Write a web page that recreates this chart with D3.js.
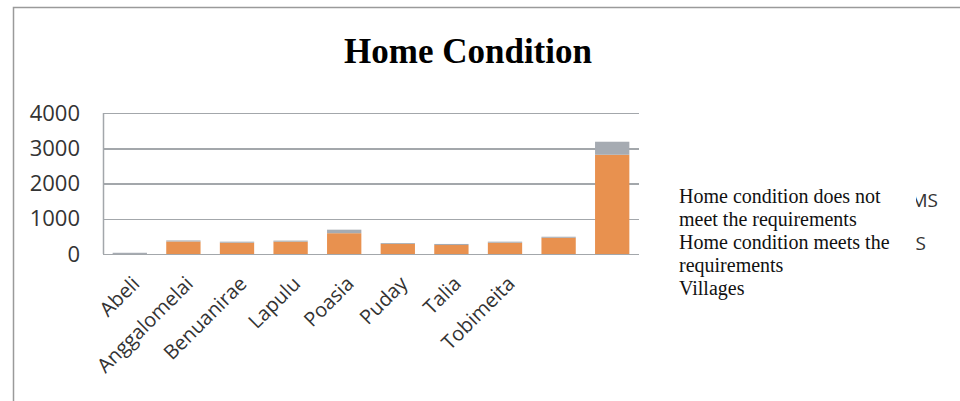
<!DOCTYPE html>
<meta charset="utf-8">
<style>
body { margin: 0; background: #fff; }
.grid line { stroke: #a3a7ab; stroke-width: 1.5; shape-rendering: crispEdges; }
.grid path { stroke-width: 0; }
.ylab text { font-family: "Open Sans", sans-serif; font-size: 22px; fill: #333; }
.xlab text { font-family: "Open Sans", sans-serif; font-size: 20px; fill: #333; }
.legend text { font-family: "Liberation Serif", serif; font-size: 20px; fill: #111; }
</style>
<body>
<script src="https://cdn.jsdelivr.net/npm/d3@7"></script>
<script>

// data
var villages = ["Abeli", "Anggalomelai", "Benuanirae", "Lapulu", "Poasia",
                "Puday", "Talia", "Tobimeita", "", ""];
var meets = [0, 355, 320, 350, 590, 285, 255, 320, 460, 2815];
var notMeets = [35, 30, 30, 30, 100, 25, 30, 30, 30, 370];
var yTicks = [0, 1000, 2000, 3000, 4000];
var legendLines = ["Home condition does not", "meet the requirements",
                   "Home condition meets the", "requirements", "Villages"];

var W = 960, H = 401;
var margin = {top: 113, left: 103},
    width = 536, height = 141;

var svg = d3.select("body").append("svg")
    .attr("width", W)
    .attr("height", H);

// outer frame (only top and left are visible)
svg.append("path")
    .attr("d", "M13.5," + H + "V7.5H" + W)
    .attr("fill", "none")
    .attr("stroke", "#9a9a9a")
    .attr("stroke-width", 1.5);

svg.append("text")
    .attr("x", 468)
    .attr("y", 63)
    .attr("text-anchor", "middle")
    .style("font-family", "Liberation Serif, serif")
    .style("font-weight", "bold")
    .style("font-size", "35px")
    .text("Home Condition");

var g = svg.append("g")
    .attr("transform", "translate(" + margin.left + "," + margin.top + ")");

var x = d3.scaleBand()
    .domain(d3.range(villages.length))
    .range([0, width])
    .paddingInner(0.36)
    .paddingOuter(0.18);

var y = d3.scaleLinear()
    .domain([0, 4000])
    .range([height, 0]);

// gridlines
g.append("g")
    .attr("class", "grid")
    .call(d3.axisLeft(y).tickValues(yTicks).tickSize(-width).tickFormat(""));

// left axis line
g.append("line")
    .attr("x1", 0.5).attr("x2", 0.5)
    .attr("y1", 0).attr("y2", height)
    .attr("stroke", "#a3a7ab")
    .attr("stroke-width", 1.5);

// y tick labels
var yl = g.append("g").attr("class", "ylab");
yl.selectAll("text")
    .data(yTicks)
    .enter().append("text")
    .attr("x", -23)
    .attr("y", function(d) { return y(d); })
    .attr("dy", "0.35em")
    .attr("text-anchor", "end")
    .text(function(d) { return d; });

// stacked bars
var stack = villages.map(function(v, i) {
  return {i: i, meets: meets[i], notMeets: notMeets[i]};
});

g.selectAll(".meets")
    .data(stack)
    .enter().append("rect")
    .attr("class", "meets")
    .attr("x", function(d) { return x(d.i); })
    .attr("width", x.bandwidth())
    .attr("y", function(d) { return y(d.meets); })
    .attr("height", function(d) { return y(0) - y(d.meets); })
    .attr("fill", "#e8914f");

g.selectAll(".notmeets")
    .data(stack)
    .enter().append("rect")
    .attr("class", "notmeets")
    .attr("x", function(d) { return x(d.i); })
    .attr("width", x.bandwidth())
    .attr("y", function(d) { return y(d.meets + d.notMeets); })
    .attr("height", function(d) { return y(d.meets) - y(d.meets + d.notMeets); })
    .attr("fill", "#a6abb2");

// x labels, rotated
var xl = g.append("g").attr("class", "xlab");
xl.selectAll("text")
    .data(villages)
    .enter().append("text")
    .attr("text-anchor", "end")
    .attr("transform", function(d, i) {
      return "translate(" + (x(i) + x.bandwidth() / 2 + 11) + "," + (height + 31) + ") rotate(-45)";
    })
    .text(function(d) { return d; });

// legend (text only, as in the picture)
var lg = svg.append("g").attr("class", "legend");
lg.selectAll("text")
    .data(legendLines)
    .enter().append("text")
    .attr("x", 679)
    .attr("y", function(d, i) { return 203 + i * 23; })
    .text(function(d) { return d; });

// clipped fragments on the far right
svg.append("clipPath").attr("id", "cut")
  .append("rect").attr("x", 916).attr("y", 180).attr("width", 40).attr("height", 80);
var frag = svg.append("g").attr("clip-path", "url(#cut)")
    .style("font-family", "Open Sans, sans-serif")
    .style("font-size", "19px")
    .style("fill", "#333");
frag.append("text").attr("x", 938).attr("y", 207).attr("text-anchor", "end").text("MS");
frag.append("text").attr("x", 926).attr("y", 250).attr("text-anchor", "end").text("S");

</script>
</body>
